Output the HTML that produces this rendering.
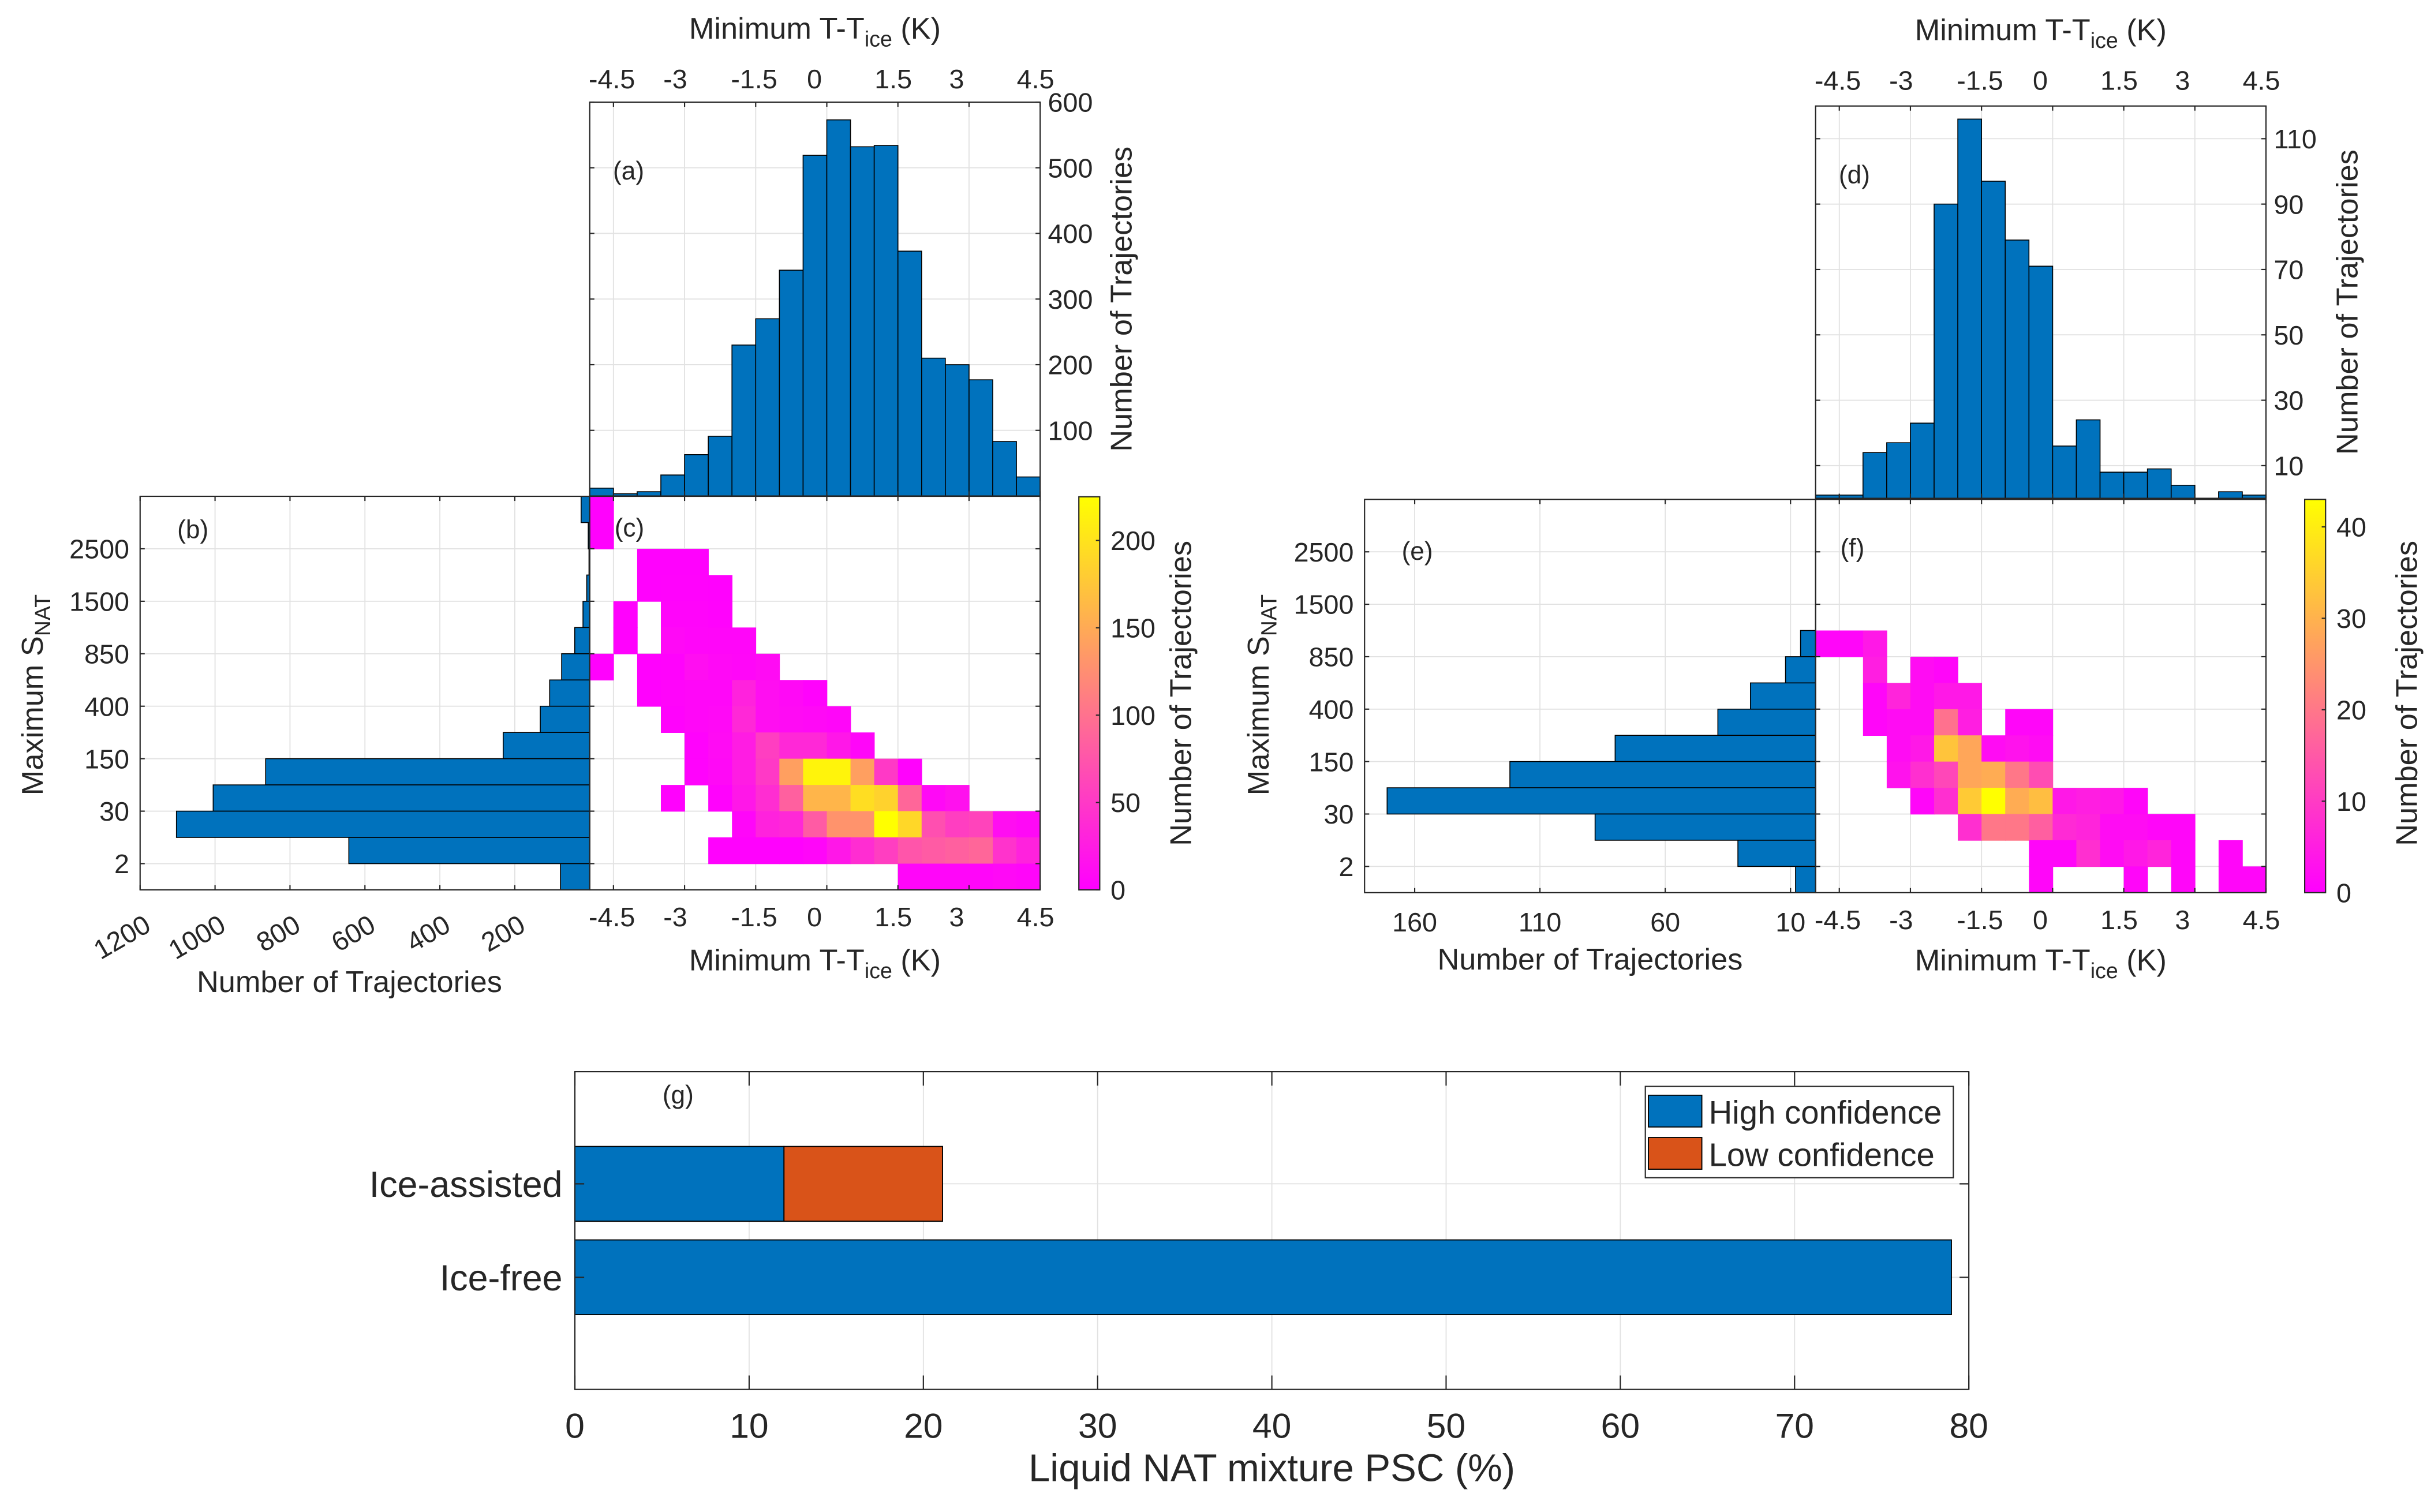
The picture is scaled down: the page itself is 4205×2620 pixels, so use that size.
<!DOCTYPE html>
<html><head><meta charset="utf-8"><title>Trajectory histograms</title>
<style>
html,body{margin:0;padding:0;background:#fff;}
svg{display:block;}
text{font-family:"Liberation Sans",Arial,sans-serif;fill:#262626;}
</style></head>
<body>
<svg id="fig" xmlns="http://www.w3.org/2000/svg" width="4205" height="2620" viewBox="0 0 1568 977">
<defs>
<linearGradient id="spring" x1="0" y1="1" x2="0" y2="0">
<stop offset="0" stop-color="#ff00ff"/><stop offset="0.5" stop-color="#ff8080"/><stop offset="1" stop-color="#ffff00"/>
</linearGradient>
</defs>
<rect x="0" y="0" width="1568" height="977" fill="#fff"/>
</svg>
<script>
// ---------------- DATA ----------------
const tBinLeft = [-5,-4.5,-4,-3.5,-3,-2.5,-2,-1.5,-1,-0.5,0,0.5,1,1.5,2,2.5,3,3.5,4];
const tTicks = [-4.5,-3,-1.5,0,1.5,3,4.5];
const tTickLabels = ['-4.5','-3','-1.5','0','1.5','3','4.5'];
const aCounts = [12,3.5,6.5,32,63,91,230,270,344,519,573,532,534,373,210,200,177,83,29];
const aYTicks = [100,200,300,400,500,600];
const dCounts = [1,1,14,17,23,90,116,97,79,71,16,24,8,8,9,4,0,2,1];
const dYTicks = [10,30,50,70,90,110];
const sLabels = ['2500','1500','850','400','150','30','2'];
const sLabelBoundary = [2,4,6,8,10,12,14];
const bCounts = [23,4,2,8,18,40,75,107,132,231,865,1005,1103,643,78];
const bXTicks = [1200,1000,800,600,400,200];
const eCounts = [0,0,0,0,0,6,12,26,39,80,122,171,88,31,8];
const eXTicks = [160,110,60,10];
const cMatrix = [
[2,0,0,0,0,0,0,0,0,0,0,0,0,0,0,0,0,0,0],
[2,0,0,0,0,0,0,0,0,0,0,0,0,0,0,0,0,0,0],
[0,0,2,2,2,0,0,0,0,0,0,0,0,0,0,0,0,0,0],
[0,0,2,3,3,2,0,0,0,0,0,0,0,0,0,0,0,0,0],
[0,2,0,4,4,3,0,0,0,0,0,0,0,0,0,0,0,0,0],
[0,2,0,8,5,5,5,0,0,0,0,0,0,0,0,0,0,0,0],
[2,0,2,3,12,8,6,10,0,0,0,0,0,0,0,0,0,0,0],
[0,0,2,4,6,6,30,12,8,3,0,0,0,0,0,0,0,0,0],
[0,0,0,3,6,8,35,12,10,8,5,0,0,0,0,0,0,0,0],
[0,0,0,0,3,10,25,55,35,35,20,5,0,0,0,0,0,0,0],
[0,0,0,0,3,8,25,50,140,215,215,140,50,3,0,0,0,0,0],
[0,0,0,2,0,3,20,40,85,160,160,195,185,90,8,15,0,0,0],
[0,0,0,0,0,0,5,30,35,80,130,130,225,190,70,55,60,12,8],
[0,0,0,0,0,2,2,2,2,5,20,40,55,75,80,85,90,45,30],
[0,0,0,0,0,0,0,0,0,0,0,0,0,5,5,5,5,8,5]];
const fMatrix = [
[0,0,0,0,0,0,0,0,0,0,0,0,0,0,0,0,0,0,0],
[0,0,0,0,0,0,0,0,0,0,0,0,0,0,0,0,0,0,0],
[0,0,0,0,0,0,0,0,0,0,0,0,0,0,0,0,0,0,0],
[0,0,0,0,0,0,0,0,0,0,0,0,0,0,0,0,0,0,0],
[0,0,0,0,0,0,0,0,0,0,0,0,0,0,0,0,0,0,0],
[1,1,4,0,0,0,0,0,0,0,0,0,0,0,0,0,0,0,0],
[0,0,5,0,2,1,0,0,0,0,0,0,0,0,0,0,0,0,0],
[0,0,1,6,2,4,4,0,0,0,0,0,0,0,0,0,0,0,0],
[0,0,1,2,2,19,5,0,1,1,0,0,0,0,0,0,0,0,0],
[0,0,0,2,4,33,28,2,3,2,0,0,0,0,0,0,0,0,0],
[0,0,0,3,8,12,28,29,20,13,0,0,0,0,0,0,0,0,0],
[0,0,0,0,1,8,34,43,29,32,4,5,4,1,0,0,0,0,0],
[0,0,0,0,0,0,8,20,20,16,7,6,2,2,1,1,0,0,0],
[0,0,0,0,0,0,0,0,0,1,1,8,2,4,6,1,0,1,0],
[0,0,0,0,0,0,0,0,0,1,0,0,0,1,0,1,0,1,1]];
const cBarTicks = [0,50,100,150,200];
const fBarTicks = [0,10,20,30,40];
const gCategories = ['Ice-free','Ice-assisted'];
const gHigh = [79,12];
const gLow = [0,9.1];
const gXTicks = [0,10,20,30,40,50,60,70,80];

// ---------------- HELPERS ----------------
const tLabelNudge = [-1,-6,-1,-8,-3,-8,-3];
const NS='http://www.w3.org/2000/svg';
const svg=document.getElementById('fig');
function mk(tag,parent,attrs){const e=document.createElementNS(NS,tag);for(const k in attrs)e.setAttribute(k,attrs[k]);(parent||svg).appendChild(e);return e;}
function lin(d0,d1,r0,r1){return v=>r0+(v-d0)/(d1-d0)*(r1-r0);}
const BLUE='#0072BD', ORANGE='#D95319', GRID='#e2e2e2', AX='#262626';
const TF=17.4, TT=19.5;
function spring(t){t=Math.max(0,Math.min(1,t));return 'rgb(255,'+Math.round(255*t)+','+Math.round(255*(1-t))+')';}
function gridLine(g,x1,y1,x2,y2){const l=mk('line',g,{x1:x1,y1:y1,x2:x2,y2:y2,stroke:GRID,'stroke-width':0.7});

return l;}
function tickLine(g,x1,y1,x2,y2){const l=mk('line',g,{x1:x1,y1:y1,x2:x2,y2:y2,stroke:AX,'stroke-width':0.8});

return l;}
function frame(g,P){const r=mk('rect',g,{x:P.x0,y:P.y0,width:P.x1-P.x0,height:P.y1-P.y0,fill:'none',stroke:AX,'stroke-width':0.8});

}
function label(g,x,y,s,size,anchor,name){const t=mk('text',g,{x:x,y:y,'font-size':size,'text-anchor':anchor||'middle'});t.textContent=s;

return t;}
function tTitle(g,cx,y,name){const t=mk('text',g,{x:cx,y:y,'font-size':TT,'text-anchor':'middle'});


const a=mk('tspan',t,{});a.textContent='Minimum T-T';
const b=mk('tspan',t,{dy:5,'font-size':14});b.textContent='ice';
const c=mk('tspan',t,{dy:-5});c.textContent=' (K)';return t;}
function rotTitle(g,x,cy,s,name){const t=mk('text',g,{x:0,y:0,'font-size':TT,'text-anchor':'middle',transform:'translate('+x+','+cy+') rotate(-90)'});t.textContent=s;

return t;}
function snatTitle(g,x,cy,name){const t=mk('text',g,{x:0,y:0,'font-size':TT,'text-anchor':'middle',transform:'translate('+x+','+cy+') rotate(-90)'});


const a=mk('tspan',t,{});a.textContent='Maximum S';
const b=mk('tspan',t,{dy:5,'font-size':14});b.textContent='NAT';return t;}
function panelLetter(g,x,y,s){const t=mk('text',g,{x:x,y:y,'font-size':16.5,'text-anchor':'start'});t.textContent=s;

}

// ---------------- TOP HISTOGRAM ----------------
function topHist(P,counts,ymax,yTicks,name,letter,titleY,tickLabY){
  const g=mk('g',svg,{});
  
  
  const x=lin(-5,4.5,P.x0,P.x1), y=lin(0,ymax,P.y1,P.y0);
  tTicks.forEach(v=>gridLine(g,x(v),P.y0,x(v),P.y1));
  yTicks.forEach(v=>gridLine(g,P.x0,y(v),P.x1,y(v)));
  tBinLeft.forEach((l,i)=>{ if(counts[i]<=0) return;
    const r=mk('rect',g,{x:x(l),y:y(counts[i]),width:x(l+0.5)-x(l),height:P.y1-y(counts[i]),fill:BLUE,stroke:'#000','stroke-width':0.6});
    
    
  });
  tTicks.forEach((v,i)=>{tickLine(g,x(v),P.y0,x(v),P.y0+3);tickLine(g,x(v),P.y1,x(v),P.y1-3);
    label(g,x(v)+tLabelNudge[i],tickLabY,tTickLabels[i],TF,'middle','x-tick-label');});
  yTicks.forEach(v=>{tickLine(g,P.x1,y(v),P.x1-3,y(v));tickLine(g,P.x0,y(v),P.x0+3,y(v));
    label(g,P.x1+5,y(v)+6.2,String(v),TF,'start','y-tick-label');});
  frame(g,P);
  tTitle(g,(P.x0+P.x1)/2,titleY,'x-axis-title-top');
  rotTitle(g,P.x1+59,(P.y0+P.y1)/2,'Number of Trajectories','y-axis-title-right');
  panelLetter(g,P.x0+15,P.y0+50,letter);
}
topHist({x0:381,x1:672,y0:66,y1:320.5},aCounts,600,aYTicks,'panel-a-histogram','(a)',25,57);
topHist({x0:1173,x1:1464,y0:68.5,y1:322},dCounts,120,dYTicks,'panel-d-histogram','(d)',26,58);

// ---------------- SIDE HISTOGRAM ----------------
function sideHist(P,counts,xmax,xTicks,rotated,name,letter){
  const g=mk('g',svg,{});
  
  
  const x=lin(0,xmax,P.x1,P.x0);
  const rh=(P.y1-P.y0)/15, ry=r=>P.y0+r*rh;
  xTicks.forEach(v=>gridLine(g,x(v),P.y0,x(v),P.y1));
  sLabelBoundary.forEach(b=>gridLine(g,P.x0,ry(b),P.x1,ry(b)));
  counts.forEach((c,r)=>{ if(c<=0) return;
    const e=mk('rect',g,{x:x(c),y:ry(r),width:P.x1-x(c),height:rh,fill:BLUE,stroke:'#000','stroke-width':0.6});
    
    
  });
  xTicks.forEach(v=>{tickLine(g,x(v),P.y1,x(v),P.y1-3);tickLine(g,x(v),P.y0,x(v),P.y0+3);
    if(rotated){const t=mk('text',g,{x:0,y:0,'font-size':TF,'text-anchor':'end',transform:'translate('+(x(v)+8)+','+(P.y1+26)+') rotate(-30)'});t.textContent=String(v);
      
      }
    else label(g,x(v),P.y1+25,String(v),TF,'middle','x-tick-label');});
  sLabelBoundary.forEach((b,i)=>{tickLine(g,P.x0,ry(b),P.x0+3,ry(b));
    label(g,P.x0-7,ry(b)+6.2,sLabels[i],TF,'end','y-tick-label');});
  frame(g,P);
  label(g,(P.x0+P.x1)/2+(rotated?-10:0),rotated?641:626.5,'Number of Trajectories',TT,'middle','x-axis-title');
  snatTitle(g,P.x0-(rotated?63:62),449,'y-axis-title');
  panelLetter(g,P.x0+24,P.y0+27+(rotated?0:12),letter);
}
sideHist({x0:90.5,x1:381,y0:320.7,y1:575},bCounts,1200,bXTicks,true,'panel-b-histogram','(b)');
sideHist({x0:881.6,x1:1173,y0:322.7,y1:576.8},eCounts,180,eXTicks,false,'panel-e-histogram','(e)');

// ---------------- HEATMAP ----------------
function heat(P,M,cmax,barTicks,CB,name,letter){
  const g=mk('g',svg,{});
  
  
  const x=lin(-5,4.5,P.x0,P.x1);
  const rh=(P.y1-P.y0)/15, ry=r=>P.y0+r*rh;
  tTicks.forEach(v=>gridLine(g,x(v),P.y0,x(v),P.y1));
  sLabelBoundary.forEach(b=>gridLine(g,P.x0,ry(b),P.x1,ry(b)));
  M.forEach((row,r)=>row.forEach((v,c)=>{ if(v<=0) return;
    const e=mk('rect',g,{x:x(tBinLeft[c]),y:ry(r),width:x(tBinLeft[c]+0.5)-x(tBinLeft[c])+0.3,height:rh+0.3,fill:spring(v/cmax)});
    
    
  }));
  tTicks.forEach((v,i)=>{tickLine(g,x(v),P.y1,x(v),P.y1-3);tickLine(g,x(v),P.y0,x(v),P.y0+3);
    label(g,x(v)+tLabelNudge[i],P.y1+23.5,tTickLabels[i],TF,'middle','x-tick-label');});
  sLabelBoundary.forEach(b=>{tickLine(g,P.x0,ry(b),P.x0+3,ry(b));tickLine(g,P.x1,ry(b),P.x1-3,ry(b));});
  frame(g,P);
  tTitle(g,(P.x0+P.x1)/2,627,'x-axis-title');
  panelLetter(g,P.x0+16,P.y0+26+(letter==='(f)'?11:0),letter);
  // colorbar
  const cb=mk('g',g,{});
  
  
  const cy=lin(0,cmax,CB.y1,CB.y0);
  const r=mk('rect',cb,{x:CB.x0,y:CB.y0,width:CB.x1-CB.x0,height:CB.y1-CB.y0,fill:'url(#spring)',stroke:AX,'stroke-width':0.8});
  
  
  barTicks.forEach(v=>{tickLine(cb,CB.x1,cy(v),CB.x1-2.5,cy(v));
    label(cb,CB.x1+7,cy(v)+6.2,String(v),TF,'start','colorbar-tick-label');});
  rotTitle(cb,CB.x1+59,448,'Number of Trajectories','colorbar-title');
}
heat({x0:381,x1:672,y0:320.7,y1:575},cMatrix,225,cBarTicks,{x0:697,x1:710.5,y0:321,y1:575},'panel-c-heatmap','(c)');
heat({x0:1173,x1:1464,y0:322.7,y1:576.8},fMatrix,43,fBarTicks,{x0:1489,x1:1502.5,y0:322.7,y1:576.8},'panel-f-heatmap','(f)');

// ---------------- PANEL G ----------------
(function(){
  const P={x0:371.4,x1:1272,y0:692.5,y1:897.8};
  const g=mk('g',svg,{});
  
  
  const x=lin(0,80,P.x0,P.x1), y=lin(-0.2,3.2,P.y1,P.y0);
  gXTicks.forEach(v=>gridLine(g,x(v),P.y0,x(v),P.y1));
  gCategories.forEach((c,i)=>gridLine(g,P.x0,y(i+1),P.x1,y(i+1)));
  gCategories.forEach((c,i)=>{
    const yt=y(i+1+0.4), h=y(i+1-0.4)-yt;
    const hb=mk('rect',g,{x:x(0),y:yt,width:x(gHigh[i])-x(0),height:h,fill:BLUE,stroke:'#000','stroke-width':0.7});
    
    
    if(gLow[i]>0){const lb=mk('rect',g,{x:x(gHigh[i]),y:yt,width:x(gHigh[i]+gLow[i])-x(gHigh[i]),height:h,fill:ORANGE,stroke:'#000','stroke-width':0.7});
      
      }
    tickLine(g,P.x0,y(i+1),P.x0+6,y(i+1));tickLine(g,P.x1,y(i+1),P.x1-6,y(i+1));
    label(g,P.x0-8,y(i+1)+8.5,c,23.4,'end','category-label');
  });
  gXTicks.forEach(v=>{tickLine(g,x(v),P.y1,x(v),P.y1-9);tickLine(g,x(v),P.y0,x(v),P.y0+9);
    label(g,x(v),929,String(v),22.6,'middle','x-tick-label');});
  frame(g,P);
  label(g,(P.x0+P.x1)/2,957,'Liquid NAT mixture PSC (%)',25,'middle','x-axis-title');
  const t=mk('text',g,{x:428,y:713,'font-size':16.5});t.textContent='(g)';
  
  
  const lg=mk('g',g,{});
  
  
  const box=mk('rect',lg,{x:1063,y:702,width:199,height:59,fill:'#fff',stroke:AX,'stroke-width':0.8});
  
  
  const s1=mk('rect',lg,{x:1065,y:707.7,width:34.5,height:20.5,fill:BLUE,stroke:'#000','stroke-width':0.7});
  
  
  const s2=mk('rect',lg,{x:1065,y:735,width:34.5,height:20.5,fill:ORANGE,stroke:'#000','stroke-width':0.7});
  
  
  label(lg,1104,726,'High confidence',21,'start','legend-entry-high');
  label(lg,1104,753.5,'Low confidence',21,'start','legend-entry-low');
})();
</script>
</body></html>
